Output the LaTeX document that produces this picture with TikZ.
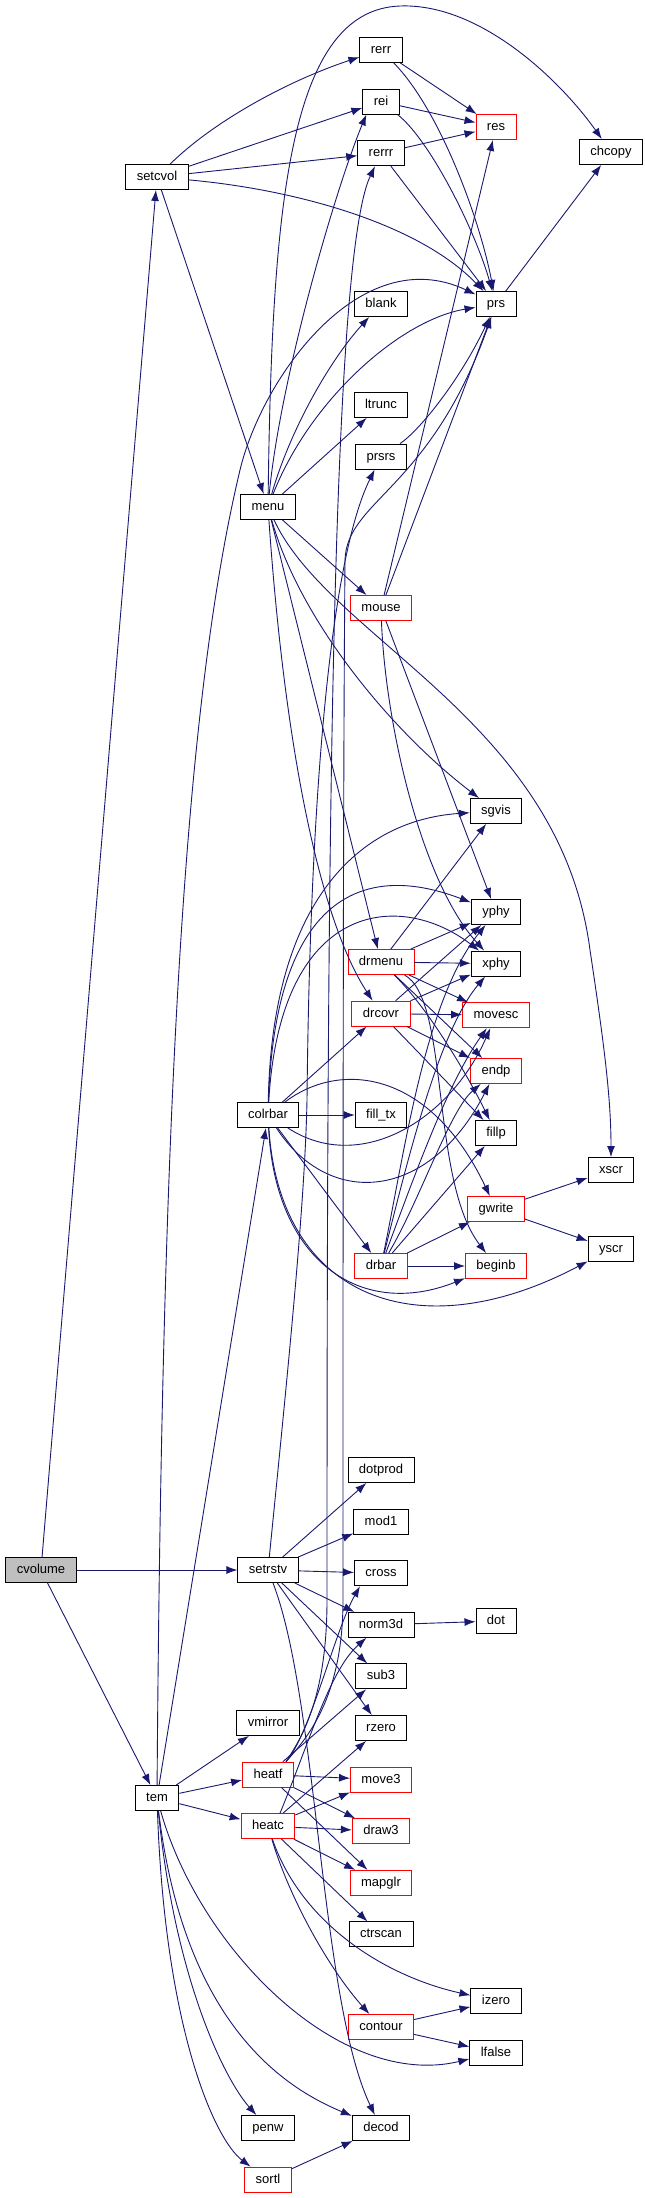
\documentclass[tikz,border=0pt]{standalone}
\usepackage{fontspec}
\setmainfont{Liberation Sans}
\usetikzlibrary{arrows.meta, positioning}

\definecolor{edgeblue}{HTML}{191970}
\definecolor{rootgray}{HTML}{BFBFBF}

\begin{document}
\begin{tikzpicture}[
    x=1pt, y=-1pt,
    node distance=25.7pt,
    func/.style={rectangle, draw=black, fill=white, line width=0.9pt, minimum height=25pt, inner xsep=11pt, inner ysep=0pt, text height=10pt, text depth=3pt, font=\fontsize{13pt}{15pt}\selectfont},
    funcred/.style={func, draw=red},
    root/.style={func, fill=rootgray},
    line/.style={draw=edgeblue, line width=0.9pt, -{Latex[length=11pt, width=8pt]}}
]
\useasboundingbox[fill=white] (0,0) rectangle (645,2198);

% Caller
\node[root] (cvolume) at (41,1570) {cvolume};

% Second column
\node[func] (setcvol) at (157,177) {setcvol};
\node[func] (tem) at (157,1798) {tem};

% Third column
\node[func] (menu) at (268,507) {menu};
\node[func] (colrbar) at (268,1115) {colrbar};
\node[func] (setrstv) at (268,1570) {setrstv};
\node[func] (vmirror) at (268,1723) {vmirror};
\node[funcred, below=of vmirror] (heatf) {heatf};
\node[funcred, below=of heatf] (heatc) {heatc};
\node[func] (penw) at (268,2128) {penw};
\node[funcred, below=of penw] (sortl) {sortl};

% Fourth column
\node[func] (rerr) at (381,50) {rerr};
\node[func, below=of rerr] (rei) {rei};
\node[func, below=of rei] (rerrr) {rerrr};
\node[func] (blank) at (381,304) {blank};
\node[func] (ltrunc) at (381,405) {ltrunc};
\node[func, below=of ltrunc] (prsrs) {prsrs};
\node[funcred] (mouse) at (381,608) {mouse};
\node[funcred] (drmenu) at (381,962) {drmenu};
\node[funcred, below=of drmenu] (drcovr) {drcovr};
\node[func] (filltx) at (381,1115) {fill\_tx};
\node[funcred] (drbar) at (381,1266) {drbar};
\node[func] (dotprod) at (381,1470) {dotprod};
\node[func, below=of dotprod] (mod1) {mod1};
\node[func, below=of mod1] (cross) {cross};
\node[func, below=of cross] (norm3d) {norm3d};
\node[func, below=of norm3d] (sub3) {sub3};
\node[func, below=of sub3] (rzero) {rzero};
\node[funcred, below=of rzero] (move3) {move3};
\node[funcred, below=of move3] (draw3) {draw3};
\node[funcred, below=of draw3] (mapglr) {mapglr};
\node[func, below=of mapglr] (ctrscan) {ctrscan};
\node[funcred] (contour) at (381,2027) {contour};
\node[func] (decod) at (381,2128) {decod};

% Fifth column
\node[funcred] (res) at (496,127) {res};
\node[func] (prs) at (496,304) {prs};
\node[func] (sgvis) at (496,811) {sgvis};
\node[func] (yphy) at (496,912) {yphy};
\node[func, below=of yphy] (xphy) {xphy};
\node[funcred, below=of xphy] (movesc) {movesc};
\node[funcred] (endp) at (496,1071) {endp};
\node[func] (fillp) at (496,1133) {fillp};
\node[funcred] (gwrite) at (496,1209) {gwrite};
\node[funcred] (beginb) at (496,1266) {beginb};
\node[func] (dot) at (496,1621) {dot};
\node[func] (izero) at (496,2001) {izero};
\node[func, below=of izero] (lfalse) {lfalse};

% Last column
\node[func] (chcopy) at (611,152) {chcopy};
\node[func] (xscr) at (611,1170) {xscr};
\node[func] (yscr) at (611,1249) {yscr};

% Calls of cvolume
\path [line] (cvolume) -- (setcvol);
\path [line] (cvolume) -- (setrstv);
\path [line] (cvolume) -- (tem);

% Calls of setcvol
\path [line] (setcvol) .. controls (215,120) and (290,80) .. (rerr);
\path [line] (setcvol) -- (rei);
\path [line] (setcvol) -- (rerrr);
\path [line] (setcvol) .. controls (300,190) and (420,225) .. (prs);
\path [line] (setcvol) -- (menu);

% Error printing
\path [line] (rerr) -- (res);
\path [line] (rerr) .. controls (440,110) and (480,220) .. (prs);
\path [line] (rei) -- (res);
\path [line] (rei) .. controls (430,140) and (475,230) .. (prs);
\path [line] (rerrr) -- (res);
\path [line] (rerrr) -- (prs);
\path [line] (prs) -- (chcopy);
\path [line] (prsrs) .. controls (420,430) and (460,380) .. (prs);

% Calls of menu
\path [line] (menu) .. controls (272,200) and (290,10) .. (400,6) .. controls (480,3) and (560,80) .. (chcopy);
\path [line] (menu) .. controls (280,380) and (335,190) .. ([xshift=4pt]rei.south west);
\path [line] (menu) .. controls (290,430) and (330,360) .. (blank);
\path [line] (menu) -- (ltrunc);
\path [line] (menu) .. controls (310,400) and (400,320) .. (prs);
\path [line] (menu) -- (mouse);
\path [line] (menu) .. controls (300,620) and (390,730) .. (sgvis);
\path [line] (menu) .. controls (330,640) and (560,720) .. (590,950) .. controls (605,1050) and (611,1100) .. (xscr);
\path [line] (menu) -- (drmenu);
\path [line] (menu) .. controls (285,750) and (320,920) .. (drcovr);

% Calls of mouse
\path [line] (mouse) -- (res);
\path [line] (mouse) -- (prs);
\path [line] (mouse) -- (yphy);
\path [line] (mouse) .. controls (385,720) and (420,880) .. (xphy);

% Calls of tem
\path [line] (tem) .. controls (162,1100) and (185,700) .. (240,470) .. controls (262,378) and (360,240) .. (prs);
\path [line] (tem) -- (colrbar);
\path [line] (tem) -- (vmirror);
\path [line] (tem) -- (heatf);
\path [line] (tem) -- (heatc);
\path [line] (tem) .. controls (200,1950) and (340,2090) .. (lfalse);
\path [line] (tem) .. controls (185,2030) and (290,2090) .. (decod);
\path [line] (tem) .. controls (175,1980) and (225,2080) .. (penw);
\path [line] (tem) .. controls (165,2030) and (215,2140) .. (sortl);
\path [line] (sortl) -- (decod);

% Calls of colrbar
\path [line] (colrbar) .. controls (272,900) and (360,820) .. (sgvis);
\path [line] (colrbar) .. controls (275,900) and (360,860) .. (yphy);
\path [line] (colrbar) .. controls (280,900) and (400,890) .. (xphy);
\path [line] (colrbar) -- (drcovr);
\path [line] (colrbar) -- (filltx);
\path [line] (colrbar) -- (drbar);
\path [line] (colrbar) .. controls (340,1060) and (430,1070) .. (gwrite);
\path [line] (colrbar) .. controls (360,1175) and (450,1120) .. (movesc);
\path [line] (colrbar) .. controls (330,1210) and (430,1200) .. (endp);
\path [line] (colrbar) .. controls (275,1260) and (360,1320) .. (beginb);
\path [line] (colrbar) .. controls (280,1300) and (420,1350) .. (yscr);

% Calls of drmenu and drcovr
\path [line] (drmenu) -- (sgvis);
\path [line] (drmenu) -- (yphy);
\path [line] (drmenu) -- (xphy);
\path [line] (drmenu) -- (movesc);
\path [line] (drmenu) -- (endp);
\path [line] (drmenu) .. controls (430,1010) and (470,1080) .. (fillp);
\path [line] (drmenu) .. controls (450,1000) and (430,1180) .. (beginb);
\path [line] (drcovr) -- (yphy);
\path [line] (drcovr) -- (xphy);
\path [line] (drcovr) -- (movesc);
\path [line] (drcovr) -- (endp);
\path [line] (drcovr) -- (fillp);

% Calls of drbar
\path [line] (drbar) .. controls (405,1150) and (425,1000) .. (yphy);
\path [line] (drbar) .. controls (410,1150) and (440,1030) .. (xphy);
\path [line] (drbar) .. controls (420,1160) and (450,1080) .. (movesc);
\path [line] (drbar) .. controls (420,1200) and (450,1110) .. (endp);
\path [line] (drbar) -- (fillp);
\path [line] (drbar) -- (gwrite);
\path [line] (drbar) -- (beginb);
\path [line] (gwrite) -- (xscr);
\path [line] (gwrite) -- (yscr);

% Calls of setrstv
\path [line] (setrstv) .. controls (290,1350) and (305,1200) .. (307,1100) .. controls (310,800) and (330,560) .. (prsrs);
\path [line] (setrstv) -- (dotprod);
\path [line] (setrstv) -- (mod1);
\path [line] (setrstv) -- (cross);
\path [line] (setrstv) -- (norm3d);
\path [line] (setrstv) -- (sub3);
\path [line] (setrstv) -- (rzero);
\path [line] (setrstv) .. controls (318,1700) and (320,2000) .. (decod);
\path [line] (norm3d) -- (dot);

% Calls of heatf
\path [line] ([xshift=18pt]heatf.north) .. controls (300,1740) and (327,1700) .. (327,1600) .. controls (327,900) and (330,260) .. ([xshift=-6pt]rerrr.south);
\path [line] ([xshift=18pt]heatf.north) .. controls (305,1740) and (343,1700) .. (343,1600) .. controls (343,1200) and (343,800) .. (345,560) .. controls (347,500) and (430,490) .. (prs);
\path [line] ([xshift=18pt]heatf.north) .. controls (310,1735) and (335,1630) .. ([xshift=6pt]cross.south west);
\path [line] (heatf) -- (sub3);
\path [line] (heatf) -- (move3);
\path [line] (heatf) -- (draw3);
\path [line] (heatf) -- (mapglr);

% Calls of heatc
\path [line] ([xshift=12pt]heatc.north) .. controls (310,1740) and (330,1670) .. (norm3d);
\path [line] (heatc) -- (rzero);
\path [line] (heatc) -- (move3);
\path [line] (heatc) -- (draw3);
\path [line] (heatc) -- (mapglr);
\path [line] (heatc) -- (ctrscan);
\path [line] (heatc) .. controls (290,1900) and (330,1970) .. (contour);
\path [line] (heatc) .. controls (300,1920) and (380,1975) .. (izero);
\path [line] (contour) -- (izero);
\path [line] (contour) -- (lfalse);

\end{tikzpicture}
\end{document}
